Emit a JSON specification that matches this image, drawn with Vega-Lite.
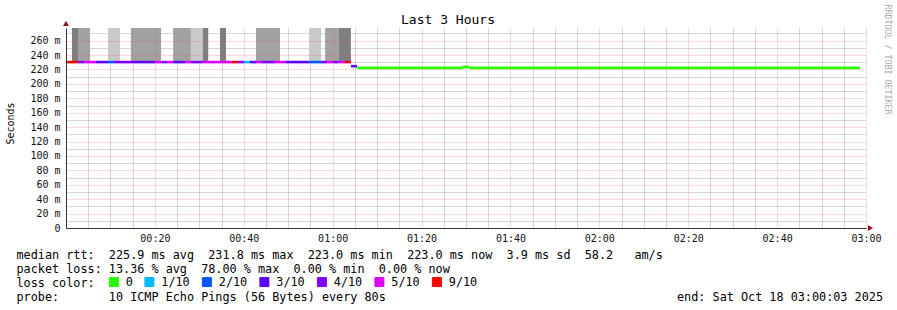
{
  "$schema": "https://vega.github.io/schema/vega-lite/v6.json",
  "width": 800,
  "height": 200,
  "autosize": {"type": "none"},
  "padding": {"left": 66, "top": 28, "right": 31, "bottom": 82},
  "background": "white",
  "config": {"view": {"stroke": null}},
  "title": {
    "text": "Last 3 Hours",
    "font": "DejaVu Sans Mono",
    "fontSize": 13,
    "fontWeight": "normal",
    "color": "#000000",
    "anchor": "middle",
    "frame": "group",
    "dx": -18,
    "offset": -33,
    "baseline": "alphabetic"
  },
  "datasets": {
    "smoke": [
      {"t0": 1.35, "t1": 2.7, "lo": 231.5, "hi": 300, "shade": "dark"},
      {"t0": 2.7, "t1": 5.4, "lo": 231.5, "hi": 300, "shade": "medium"},
      {"t0": 9.45, "t1": 12.15, "lo": 231.5, "hi": 300, "shade": "light"},
      {"t0": 14.6, "t1": 21.4, "lo": 231.5, "hi": 300, "shade": "medium"},
      {"t0": 24.1, "t1": 28.1, "lo": 231.5, "hi": 300, "shade": "medium"},
      {"t0": 28.1, "t1": 30.8, "lo": 231.5, "hi": 300, "shade": "light"},
      {"t0": 30.8, "t1": 32.0, "lo": 231.5, "hi": 300, "shade": "dark"},
      {"t0": 34.65, "t1": 36.0, "lo": 231.5, "hi": 300, "shade": "dark"},
      {"t0": 42.75, "t1": 48.15, "lo": 231.5, "hi": 300, "shade": "medium"},
      {"t0": 54.7, "t1": 57.4, "lo": 231.5, "hi": 300, "shade": "light"},
      {"t0": 58.3, "t1": 61.4, "lo": 231.5, "hi": 300, "shade": "medium"},
      {"t0": 61.4, "t1": 64.1, "lo": 231.5, "hi": 300, "shade": "dark"}
    ],
    "rtt": [
      {"t0": 0, "t1": 2.7, "rtt": 230.3, "loss": "9/10"},
      {"t0": 2.7, "t1": 4.05, "rtt": 230.3, "loss": "4/10"},
      {"t0": 4.05, "t1": 6.75, "rtt": 230.3, "loss": "5/10"},
      {"t0": 6.75, "t1": 9.45, "rtt": 230.3, "loss": "3/10"},
      {"t0": 9.45, "t1": 10.8, "rtt": 230.3, "loss": "2/10"},
      {"t0": 10.8, "t1": 14.85, "rtt": 230.3, "loss": "4/10"},
      {"t0": 14.85, "t1": 20.0, "rtt": 230.3, "loss": "3/10"},
      {"t0": 20.0, "t1": 21.4, "rtt": 230.3, "loss": "5/10"},
      {"t0": 21.4, "t1": 22.7, "rtt": 230.3, "loss": "4/10"},
      {"t0": 22.7, "t1": 24.1, "rtt": 230.3, "loss": "5/10"},
      {"t0": 24.1, "t1": 26.8, "rtt": 230.3, "loss": "3/10"},
      {"t0": 26.8, "t1": 28.1, "rtt": 230.3, "loss": "5/10"},
      {"t0": 28.1, "t1": 30.8, "rtt": 230.3, "loss": "4/10"},
      {"t0": 30.8, "t1": 37.35, "rtt": 230.3, "loss": "5/10"},
      {"t0": 37.35, "t1": 38.7, "rtt": 230.3, "loss": "9/10"},
      {"t0": 38.7, "t1": 40.05, "rtt": 230.3, "loss": "4/10"},
      {"t0": 40.05, "t1": 41.4, "rtt": 230.3, "loss": "1/10"},
      {"t0": 41.4, "t1": 42.75, "rtt": 230.3, "loss": "3/10"},
      {"t0": 42.75, "t1": 44.1, "rtt": 230.3, "loss": "5/10"},
      {"t0": 44.1, "t1": 46.8, "rtt": 230.3, "loss": "4/10"},
      {"t0": 46.8, "t1": 49.5, "rtt": 230.3, "loss": "5/10"},
      {"t0": 49.5, "t1": 54.7, "rtt": 230.3, "loss": "3/10"},
      {"t0": 54.7, "t1": 57.4, "rtt": 230.3, "loss": "2/10"},
      {"t0": 57.4, "t1": 58.7, "rtt": 230.3, "loss": "4/10"},
      {"t0": 58.7, "t1": 60.1, "rtt": 230.3, "loss": "5/10"},
      {"t0": 60.1, "t1": 61.4, "rtt": 230.3, "loss": "4/10"},
      {"t0": 61.4, "t1": 62.8, "rtt": 230.3, "loss": "5/10"},
      {"t0": 62.8, "t1": 64.1, "rtt": 230.3, "loss": "9/10"},
      {"t0": 64.1, "t1": 65.5, "rtt": 224.6, "loss": "3/10"},
      {"t0": 65.5, "t1": 89.3, "rtt": 222.2, "loss": "0"},
      {"t0": 89.3, "t1": 90.7, "rtt": 223.6, "loss": "0"},
      {"t0": 90.7, "t1": 178.65, "rtt": 222.2, "loss": "0"}
    ],
    "arrows": [
      {"px": 0, "py": 283.9, "dir": "up"},
      {"px": 181, "py": 0, "dir": "right"}
    ]
  },
  "layer": [
    {
      "data": {"name": "smoke"},
      "mark": {"type": "rect", "clip": true},
      "encoding": {
        "x": {
          "field": "t0", "type": "quantitative",
          "scale": {"domain": [0, 180], "nice": false, "zero": false},
          "axis": {
            "orient": "bottom",
            "values": [5, 10, 15, 25, 30, 35, 45, 50, 55, 65, 70, 75, 85, 90, 95, 105, 110, 115, 125, 130, 135, 145, 150, 155, 165, 170, 175],
            "grid": true, "gridColor": "#9a9a9a", "gridOpacity": 0.8, "gridDash": [1, 1], "gridWidth": 1,
            "labels": false, "ticks": false, "domain": false, "title": null
          }
        },
        "x2": {"field": "t1"},
        "y": {
          "field": "lo", "type": "quantitative",
          "scale": {"domain": [0, 277.6], "nice": false, "zero": false},
          "axis": {
            "orient": "left",
            "values": [10, 30, 50, 70, 90, 110, 130, 150, 170, 190, 210, 230, 250, 270],
            "grid": true, "gridColor": "#9a9a9a", "gridOpacity": 0.8, "gridDash": [1, 1], "gridWidth": 1,
            "labels": false, "ticks": false, "domain": false, "title": null
          }
        },
        "y2": {"field": "hi"},
        "fill": {
          "field": "shade", "type": "nominal",
          "scale": {"domain": ["dark", "medium", "light"], "range": ["#7f7f7f", "#a2a2a2", "#c9c9c9"]},
          "legend": null
        }
      }
    },
    {
      "data": {"name": "rtt"},
      "mark": {"type": "rule", "strokeWidth": 2.6, "strokeCap": "butt"},
      "encoding": {
        "x": {
          "field": "t0", "type": "quantitative",
          "scale": {"domain": [0, 180], "nice": false, "zero": false},
          "axis": {
            "orient": "bottom",
            "zindex": 1,
            "values": [20, 40, 60, 80, 100, 120, 140, 160, 180],
            "grid": true, "gridColor": "#ff4040", "gridOpacity": 0.4, "gridDash": [1, 1], "gridWidth": 1,
            "ticks": false,
            "domain": true, "domainColor": "#333333", "domainWidth": 1,
            "labelExpr": "utcFormat(datum.value * 60000, '%H:%M')",
            "labelFont": "DejaVu Sans Mono", "labelFontSize": 10, "labelColor": "#111111",
            "labelPadding": 5, "labelFlush": false, "labelOverlap": false,
            "title": [
              "median\u00a0rtt:\u00a0\u00a0225.9\u00a0ms\u00a0avg\u00a0\u00a0231.8\u00a0ms\u00a0max\u00a0\u00a0223.0\u00a0ms\u00a0min\u00a0\u00a0223.0\u00a0ms\u00a0now\u00a0\u00a03.9\u00a0ms\u00a0sd\u00a0\u00a058.2\u00a0\u00a0\u00a0am/s",
              "packet\u00a0loss:\u00a013.36\u00a0%\u00a0avg\u00a0\u00a078.00\u00a0%\u00a0max\u00a0\u00a00.00\u00a0%\u00a0min\u00a0\u00a00.00\u00a0%\u00a0now",
              "loss\u00a0color:",
              "probe:\u00a0\u00a0\u00a0\u00a0\u00a0\u00a0\u00a010\u00a0ICMP\u00a0Echo\u00a0Pings\u00a0(56\u00a0Bytes)\u00a0every\u00a080s\u00a0\u00a0\u00a0\u00a0\u00a0\u00a0\u00a0\u00a0\u00a0\u00a0\u00a0\u00a0\u00a0\u00a0\u00a0\u00a0\u00a0\u00a0\u00a0\u00a0\u00a0\u00a0\u00a0\u00a0\u00a0\u00a0\u00a0\u00a0\u00a0\u00a0\u00a0\u00a0\u00a0\u00a0\u00a0\u00a0\u00a0\u00a0\u00a0\u00a0\u00a0end:\u00a0Sat\u00a0Oct\u00a018\u00a003:00:03\u00a02025"
            ],
            "titleFont": "DejaVu Sans Mono", "titleFontSize": 11.8, "titleFontWeight": "normal",
            "titleColor": "#000000", "titleAlign": "left", "titleBaseline": "alphabetic",
            "titleLineHeight": 14, "titleX": -50, "titleY": 30.5, "titleAngle": 0
          }
        },
        "x2": {"field": "t1"},
        "y": {
          "field": "rtt", "type": "quantitative",
          "scale": {"domain": [0, 277.6], "nice": false, "zero": false},
          "axis": {
            "orient": "left",
            "zindex": 1,
            "values": [0, 20, 40, 60, 80, 100, 120, 140, 160, 180, 200, 220, 240, 260],
            "grid": true, "gridColor": "#ff4040", "gridOpacity": 0.4, "gridDash": [1, 1], "gridWidth": 1,
            "ticks": false,
            "domain": true, "domainColor": "#333333", "domainWidth": 1,
            "labelExpr": "datum.value == 0 ? '0\u00a0\u00a0' : datum.value + '\u00a0m'",
            "labelFont": "DejaVu Sans Mono", "labelFontSize": 10, "labelColor": "#111111",
            "labelPadding": 6, "labelBaseline": "middle",
            "title": "Seconds",
            "titleFont": "DejaVu Sans Mono", "titleFontSize": 10, "titleFontWeight": "normal",
            "titleColor": "#000000", "titleX": -55.5, "titleY": 95, "titleAngle": -90,
            "titleAlign": "center", "titleBaseline": "middle"
          }
        },
        "color": {
          "field": "loss", "type": "nominal",
          "scale": {
            "domain": ["0", "1/10", "2/10", "3/10", "4/10", "5/10", "9/10"],
            "range": ["#26ff00", "#00b8ff", "#0059ff", "#5e00ff", "#7e00ff", "#dd00ff", "#ff0000"]
          },
          "legend": {
            "orient": "none",
            "legendX": 42,
            "legendY": 248,
            "direction": "horizontal",
            "title": null,
            "symbolType": "square",
            "symbolSize": 81,
            "symbolStrokeColor": "#000000",
            "symbolStrokeWidth": 1,
            "labelFont": "DejaVu Sans Mono",
            "labelFontSize": 11.8,
            "labelColor": "#000000",
            "labelOffset": 6,
            "columnPadding": 9.5,
            "padding": 0,
            "encode": {
              "symbols": {
                "update": {
                  "fill": {"scale": "color", "field": "value"},
                  "fillOpacity": {"value": 1},
                  "stroke": {"value": "#000000"},
                  "strokeWidth": {"value": 1}
                }
              }
            }
          }
        }
      }
    },
    {
      "data": {"name": "arrows"},
      "mark": {"type": "point", "filled": true, "size": 36, "opacity": 1, "color": "#8b1a1a"},
      "encoding": {
        "x": {
          "field": "px", "type": "quantitative",
          "scale": {"domain": [0, 180], "nice": false, "zero": false},
          "axis": null
        },
        "y": {
          "field": "py", "type": "quantitative",
          "scale": {"domain": [0, 277.6], "nice": false, "zero": false},
          "axis": {
            "orient": "right",
            "grid": false, "labels": false, "ticks": false, "domain": false,
            "title": "RRDTOOL / TOBI OETIKER",
            "titleFont": "DejaVu Sans Mono", "titleFontSize": 8.3, "titleFontWeight": "normal",
            "titleColor": "#ababab", "titleAngle": 90, "titleX": 20, "titleY": -24,
            "titleAlign": "left", "titleBaseline": "middle"
          }
        },
        "shape": {
          "field": "dir", "type": "nominal",
          "scale": {"domain": ["up", "right"], "range": ["triangle-up", "triangle-right"]},
          "legend": null
        }
      }
    }
  ],
  "resolve": {"axis": {"x": "independent", "y": "independent"}}
}
